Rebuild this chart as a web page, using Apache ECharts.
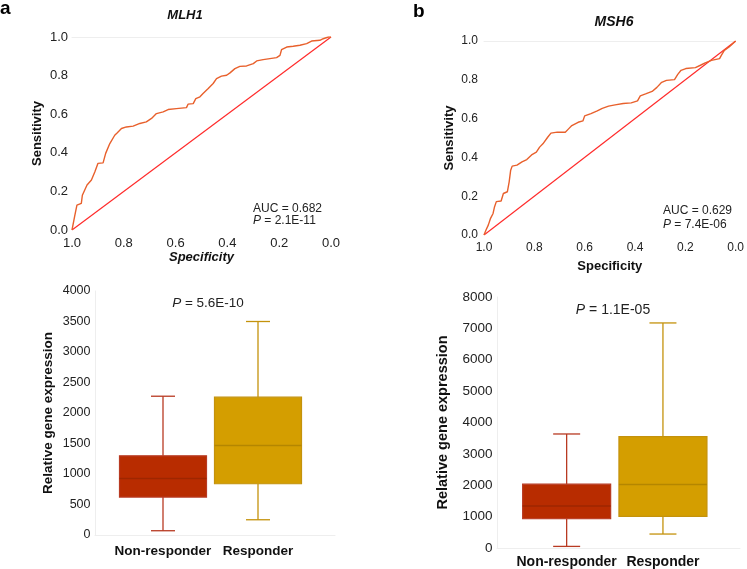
<!DOCTYPE html>
<html><head><meta charset="utf-8">
<script src="https://cdn.jsdelivr.net/npm/echarts@6/dist/echarts.min.js"></script>
<style>html,body{margin:0;padding:0;background:#fff}#c{width:747px;height:569px}</style>
</head><body><div id="c"></div>
<script>
// ROC a: MLH1 [specificity, sensitivity]
const rocMLH1 = [[1.0,0],[0.99,0.069],[0.981,0.129],[0.964,0.138],[0.96,0.18],[0.942,0.233],[0.925,0.259],[0.912,0.30],[0.90,0.345],[0.88,0.348],[0.87,0.397],[0.854,0.448],[0.835,0.491],[0.826,0.503],[0.809,0.526],[0.79,0.534],[0.764,0.538],[0.738,0.552],[0.713,0.56],[0.693,0.578],[0.674,0.603],[0.648,0.612],[0.629,0.624],[0.597,0.629],[0.558,0.634],[0.552,0.652],[0.532,0.655],[0.522,0.681],[0.506,0.69],[0.494,0.707],[0.474,0.733],[0.455,0.759],[0.442,0.784],[0.423,0.797],[0.403,0.802],[0.39,0.814],[0.371,0.836],[0.352,0.848],[0.326,0.85],[0.30,0.862],[0.287,0.876],[0.262,0.883],[0.236,0.888],[0.21,0.893],[0.197,0.905],[0.191,0.934],[0.171,0.948],[0.146,0.952],[0.12,0.957],[0.094,0.966],[0.075,0.979],[0.043,0.983],[0.03,0.991],[0.01,1.0],[0,1.0]];
// ROC b: MSH6
const rocMSH6 = [[1.0,0],[0.992,0.026],[0.983,0.051],[0.974,0.086],[0.964,0.111],[0.958,0.146],[0.951,0.172],[0.932,0.175],[0.923,0.214],[0.907,0.223],[0.9,0.274],[0.894,0.334],[0.888,0.355],[0.869,0.36],[0.849,0.377],[0.83,0.389],[0.811,0.413],[0.792,0.427],[0.779,0.453],[0.766,0.47],[0.747,0.504],[0.734,0.525],[0.709,0.53],[0.677,0.53],[0.664,0.547],[0.651,0.564],[0.626,0.581],[0.607,0.588],[0.6,0.614],[0.575,0.626],[0.55,0.64],[0.53,0.653],[0.505,0.664],[0.479,0.671],[0.447,0.678],[0.415,0.681],[0.39,0.691],[0.379,0.717],[0.358,0.727],[0.332,0.74],[0.313,0.761],[0.294,0.787],[0.275,0.797],[0.243,0.801],[0.23,0.828],[0.217,0.849],[0.198,0.858],[0.16,0.863],[0.14,0.875],[0.121,0.887],[0.096,0.9],[0.064,0.909],[0.057,0.926],[0.045,0.952],[0.026,0.969],[0,1.0]];
const diagonal = [[1,0],[0,1]];
const groups = ['Non-responder','Responder'];
// box stats [min, Q1, median, Q3, max]
const boxMLH1 = [[70,622,928,1298,2275],[250,840,1468,2259,3500]];
const boxMSH6 = [[51,932,1335,2035,3634],[445,1005,2022,3549,7173]];

const FONT = 'Liberation Sans, Arial, sans-serif';
const boxColors = [
  {fill:'#B82C00', edge:'#B83A22', median:'#9E2600'},
  {fill:'#D49E00', edge:'#C4920C', median:'#B48600'}
];

function rocAxes(gi, fs, nameItalic, nameGapX, nameGapY, mX, mY){
  const lab = {fontFamily:FONT, fontSize:fs, color:'#222', formatter:v=>v.toFixed(1)};
  return {
    x:[{gridIndex:gi,type:'value',min:0,max:1,interval:0.2,inverse:true,
        name:'Specificity',nameLocation:'middle',nameGap:nameGapX,
        nameTextStyle:{fontFamily:FONT,fontSize:13,fontWeight:'bold',fontStyle:nameItalic?'italic':'normal',color:'#111'},
        axisLine:{show:false},axisTick:{show:false},splitLine:{show:false},
        axisLabel:Object.assign({margin:mX},lab)},
       {gridIndex:gi,type:'value',min:0,max:1,position:'top',
        axisLine:{show:true,lineStyle:{color:'#eeeeee',width:1}},axisTick:{show:false},axisLabel:{show:false},splitLine:{show:false}}],
    y:[{gridIndex:gi,type:'value',min:0,max:1,interval:0.2,
        name:'Sensitivity',nameLocation:'middle',nameGap:nameGapY,
        nameTextStyle:{fontFamily:FONT,fontSize:13,fontWeight:'bold',color:'#111'},
        axisLine:{show:false},axisTick:{show:false},splitLine:{show:false},
        axisLabel:Object.assign({margin:mY},lab)}]
  };
}
const ra = rocAxes(0, 13, true, 21, 28, 7, 4);
const rb = rocAxes(1, 12, false, 25, 28, 7, 6);

function boxY(gi, max, interval, fs, margin, gap){
  return {gridIndex:gi,type:'value',min:0,max:max,interval:interval,
    name:'Relative gene expression',nameLocation:'middle',nameGap:gap,
    nameTextStyle:{fontFamily:FONT,fontSize:fs+1,fontWeight:'bold',color:'#111'},
    axisLine:{show:false},axisTick:{show:false},splitLine:{show:false},
    axisLabel:{fontFamily:FONT,fontSize:fs,color:'#222',margin:margin,formatter:v=>String(v)}};
}
function boxX(gi, fs, margin){
  return {gridIndex:gi,type:'category',data:groups,
    axisLine:{show:false},axisTick:{show:false},splitLine:{show:false},
    axisLabel:{fontFamily:FONT,fontSize:fs,fontWeight:'bold',color:'#111',margin:margin,interval:0}};
}
function frameX(gi){return {gridIndex:gi,type:'value',min:0,max:1,position:'top',axisLine:{show:true,lineStyle:{color:'#eeeeee'}},axisTick:{show:false},axisLabel:{show:false},splitLine:{show:false}};}
function frameY(gi){return {gridIndex:gi,type:'value',min:0,max:1,position:'right',axisLine:{show:true,lineStyle:{color:'#eeeeee'}},axisTick:{show:false},axisLabel:{show:false},splitLine:{show:false}};}

function boxSeries(xi, yi, stats, boxW, capW){
  return {type:'custom',xAxisIndex:xi,yAxisIndex:yi,silent:true,
    data:stats.map((d,i)=>[i].concat(d)),
    encode:{x:0,y:[1,2,3,4,5]},
    renderItem:function(params, api){
      const i = api.value(0);
      const c = boxColors[i];
      const pMin = api.coord([i, api.value(1)]);
      const pQ1 = api.coord([i, api.value(2)]);
      const pMed = api.coord([i, api.value(3)]);
      const pQ3 = api.coord([i, api.value(4)]);
      const pMax = api.coord([i, api.value(5)]);
      const cx = pMed[0];
      const ls = {stroke:c.edge, lineWidth:1.3};
      return {type:'group',children:[
        {type:'line',shape:{x1:cx,y1:pQ3[1],x2:cx,y2:pMax[1]},style:ls},
        {type:'line',shape:{x1:cx,y1:pQ1[1],x2:cx,y2:pMin[1]},style:ls},
        {type:'line',shape:{x1:cx-capW/2,y1:pMax[1],x2:cx+capW/2,y2:pMax[1]},style:ls},
        {type:'line',shape:{x1:cx-capW/2,y1:pMin[1],x2:cx+capW/2,y2:pMin[1]},style:ls},
        {type:'rect',shape:{x:cx-boxW/2,y:pQ3[1],width:boxW,height:pQ1[1]-pQ3[1]},style:{fill:c.fill,stroke:c.edge,lineWidth:1.2}},
        {type:'line',shape:{x1:cx-boxW/2,y1:pMed[1],x2:cx+boxW/2,y2:pMed[1]},style:{stroke:c.median,lineWidth:1.5}}
      ]};
    }};
}

const option = {
  animation:false,
  backgroundColor:'#fff',
  grid:[
    {left:72,top:37,width:259,height:193},
    {left:484,top:41,width:261,height:194},
    {left:115.5,top:291,width:190,height:244},
    {left:518.5,top:297,width:192.6,height:251},
    {left:95,top:291,width:240,height:244},
    {left:497,top:297,width:243,height:251}
  ],
  xAxis:[ra.x[0],ra.x[1],rb.x[0],rb.x[1],boxX(2,13.5,9),boxX(3,14,7),frameX(4),frameX(5)],
  yAxis:[ra.y[0],rb.y[0],boxY(2,4000,500,12.5,25,60),boxY(3,8000,1000,13.5,26,68),frameY(4),frameY(5)],
  series:[
    {type:'line',xAxisIndex:0,yAxisIndex:0,data:diagonal,showSymbol:false,lineStyle:{color:'#FF2B2B',width:1.2},silent:true},
    {type:'line',xAxisIndex:0,yAxisIndex:0,data:rocMLH1,showSymbol:false,lineStyle:{color:'#E8602C',width:1.4},silent:true},
    {type:'line',xAxisIndex:2,yAxisIndex:1,data:diagonal,showSymbol:false,lineStyle:{color:'#FF2B2B',width:1.2},silent:true},
    {type:'line',xAxisIndex:2,yAxisIndex:1,data:rocMSH6,showSymbol:false,lineStyle:{color:'#E8602C',width:1.4},silent:true},
    boxSeries(4,2,boxMLH1,87,24),
    boxSeries(5,3,boxMSH6,88,27)
  ],
  graphic:[
    {type:'text',x:0,y:9,style:{text:'a',font:'bold 19px '+FONT,fill:'#000',textVerticalAlign:'middle'}},
    {type:'text',x:413,y:12,style:{text:'b',font:'bold 19px '+FONT,fill:'#000',textVerticalAlign:'middle'}},
    {type:'text',x:185,y:15,style:{text:'MLH1',font:'italic bold 13px '+FONT,fill:'#111',textAlign:'center',textVerticalAlign:'middle'}},
    {type:'text',x:614,y:22,style:{text:'MSH6',font:'italic bold 14px '+FONT,fill:'#111',textAlign:'center',textVerticalAlign:'middle'}},
    {type:'text',x:253,y:209,style:{text:'AUC = 0.682',font:'12px '+FONT,fill:'#222',textVerticalAlign:'middle'}},
    {type:'text',x:253,y:221,style:{text:'{i|P} = 2.1E-11',font:'12px '+FONT,fill:'#222',textVerticalAlign:'middle',rich:{i:{fontStyle:'italic',fontSize:12,fontFamily:FONT,fill:'#222'}}}},
    {type:'text',x:663,y:211,style:{text:'AUC = 0.629',font:'12px '+FONT,fill:'#222',textVerticalAlign:'middle'}},
    {type:'text',x:663,y:225,style:{text:'{i|P} = 7.4E-06',font:'12px '+FONT,fill:'#222',textVerticalAlign:'middle',rich:{i:{fontStyle:'italic',fontSize:12,fontFamily:FONT,fill:'#222'}}}},
    {type:'text',x:208,y:303,style:{text:'{i|P} = 5.6E-10',font:'13.5px '+FONT,fill:'#222',textAlign:'center',textVerticalAlign:'middle',rich:{i:{fontStyle:'italic',fontSize:13.5,fontFamily:FONT,fill:'#222'}}}},
    {type:'text',x:613,y:310,style:{text:'{i|P} = 1.1E-05',font:'14px '+FONT,fill:'#222',textAlign:'center',textVerticalAlign:'middle',rich:{i:{fontStyle:'italic',fontSize:14,fontFamily:FONT,fill:'#222'}}}}
  ]
};
const chart = echarts.init(document.getElementById('c'),null,{renderer:'canvas'});
chart.setOption(option);
</script></body></html>
